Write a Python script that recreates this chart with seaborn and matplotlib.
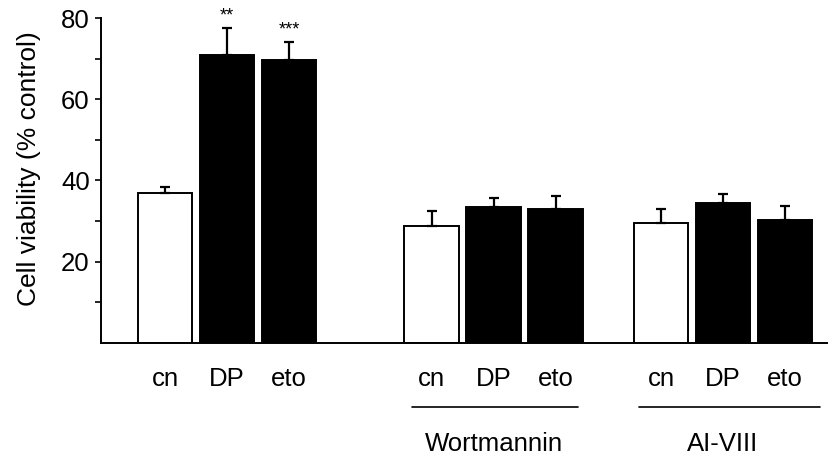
import numpy as np
import pandas as pd
import seaborn as sns
import matplotlib.pyplot as plt
import matplotlib.transforms as mtransforms

# bar data: three groups (no inhibitor, Wortmannin, AI-VIII)
treatments = ["cn", "DP", "eto", "cn", "DP", "eto", "cn", "DP", "eto"]
positions = [0, 1, 2, 4.3, 5.3, 6.3, 8, 9, 10]
viability = [36.9, 70.9, 69.7, 28.8, 33.55, 32.9, 29.6, 34.5, 30.3]
sem = [1.5, 6.6, 4.4, 3.7, 2.05, 3.2, 3.4, 2.25, 3.5]
stars = ["", "**", "***", "", "", "", "", "", ""]
group_names = ["Wortmannin", "AI-VIII"]
group_centers = [5.3, 9.0]
group_lines = [(3.98, 6.66), (7.65, 10.56)]

sns.set_style("ticks")
plt.rcParams["font.family"] = ["Liberation Sans", "DejaVu Sans"]
plt.rcParams["text.color"] = "black"
plt.rcParams["xtick.color"] = "black"
plt.rcParams["ytick.color"] = "black"
plt.rcParams["axes.labelcolor"] = "black"
plt.rcParams["axes.edgecolor"] = "black"

df = pd.DataFrame({"pos": positions, "treatment": treatments, "value": viability})

fig = plt.figure(figsize=(8.29, 4.57), dpi=100)
ax = fig.add_axes([0.1218, 0.2495, 0.8782, 0.7111])

sns.barplot(data=df, x="pos", y="value", hue="treatment", native_scale=True,
            hue_order=["cn", "DP", "eto"],
            palette={"cn": "white", "DP": "black", "eto": "black"},
            edgecolor="black", linewidth=1.4, width=0.88, errorbar=None,
            dodge=False, legend=False, ax=ax)

ax.errorbar(positions, viability, yerr=[np.zeros(len(sem)), sem], fmt="none",
            ecolor="black", elinewidth=1.6, capsize=3.5, capthick=1.6, zorder=3)

for x, v, e, s in zip(positions, viability, sem, stars):
    if s:
        ax.text(x, v + e + 0.8, s, ha="center", va="bottom", fontsize=13)

ax.set_xlim(-1.032, 10.71)
ax.set_ylim(0, 80)
ax.set_xticks(positions)
ax.set_xticklabels(treatments)
ax.set_yticks([20, 40, 60, 80])
ax.set_yticks([10, 30, 50, 70], minor=True)
ax.tick_params(axis="x", length=0, pad=17, labelsize=18.5)
ax.tick_params(axis="y", which="both", length=4, width=1.2, direction="out", labelsize=18.5, pad=4)
ax.set_xlabel("")
ax.set_ylabel("Cell viability (% control)", fontsize=19)
ax.yaxis.set_label_coords(-0.083, 0.537)

sns.despine(ax=ax)
ax.spines["left"].set_linewidth(1.4)
ax.spines["bottom"].set_linewidth(1.4)

trans = mtransforms.blended_transform_factory(ax.transData, ax.transAxes)
for name, xc, (x0, x1) in zip(group_names, group_centers, group_lines):
    ax.plot([x0, x1], [-0.197, -0.197], color="black", lw=1.2,
            transform=trans, clip_on=False)
    ax.text(xc, -0.31, name, ha="center", va="center",
            fontsize=18.5, transform=trans)

fig.savefig("out.png", dpi=100)
